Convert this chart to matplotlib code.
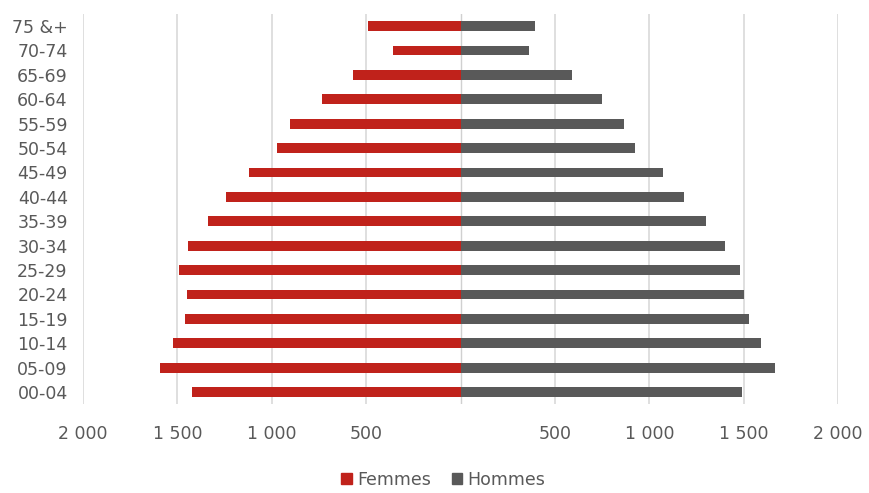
import numpy as np
import matplotlib
matplotlib.use('Agg')
import matplotlib.pyplot as plt
from matplotlib.patches import Patch

# tranches d'age, de bas en haut
ages = ['00-04', '05-09', '10-14', '15-19', '20-24', '25-29', '30-34', '35-39',
        '40-44', '45-49', '50-54', '55-59', '60-64', '65-69', '70-74', '75 &+']
femmes = [1423, 1593, 1524, 1460, 1450, 1492, 1444, 1339,
          1243, 1122, 974, 905, 735, 571, 360, 492]
hommes = [1489, 1664, 1590, 1526, 1500, 1479, 1399, 1299,
          1183, 1071, 923, 865, 749, 590, 362, 394]
ticks = [-2000, -1500, -1000, -500, 500, 1000, 1500, 2000]
tick_labels = ['2 000', '1 500', '1 000', '500', '500', '1 000', '1 500', '2 000']

rouge = '#c0221b'
gris = '#595959'
txt = '#595959'

fig = plt.figure(figsize=(8.69, 4.93), dpi=100)
ax = fig.add_axes([0.0955, 0.180, 0.869, 0.792])

y = np.arange(len(ages))
ax.barh(y, -np.array(femmes), height=0.4, color=rouge, zorder=3)
ax.barh(y, hommes, height=0.4, color=gris, zorder=3)

ax.set_xlim(-2000, 2000)
ax.set_ylim(-0.5, len(ages) - 0.5)
ax.set_xticks(ticks)
ax.set_xticklabels(tick_labels)
ax.set_yticks(y)
ax.set_yticklabels(ages)
ax.tick_params(axis='both', length=0, labelsize=12.5, colors=txt)
ax.tick_params(axis='x', pad=15)
ax.tick_params(axis='y', pad=11)

ax.grid(axis='x', color='#d9d9d9', lw=1.2, zorder=0)
ax.axvline(0, color='#d0d0d0', lw=1, zorder=2)
for s in ax.spines.values():
    s.set_visible(False)

handles = [Patch(color=rouge, label='Femmes'), Patch(color=gris, label='Hommes')]
fig.legend(handles=handles, loc='center', bbox_to_anchor=(0.51, 0.027), ncol=2,
           frameon=False, fontsize=12.5, labelcolor=txt, handlelength=0.6,
           handleheight=0.6, handletextpad=0.3, columnspacing=1.2)

fig.savefig('out.png', dpi=100)
